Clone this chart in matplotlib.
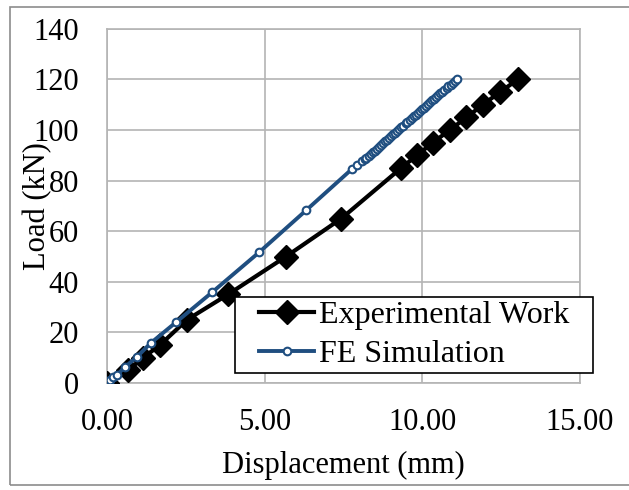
import matplotlib.pyplot as plt
from matplotlib.patches import Rectangle

# data
exp_disp = [0, 0.67, 1.15, 1.68, 2.54, 3.84, 5.68, 7.43, 9.33, 9.83, 10.33,
            10.87, 11.4, 11.92, 12.46, 13.03]
exp_load = [0, 5, 10, 15, 25, 35, 50, 65, 85, 90, 95, 100, 105, 110, 115, 120]

# FE points get very dense above ~85 kN
fe_disp = [0.0, 0.1, 0.2, 0.32, 0.57, 0.95, 1.39, 2.19, 3.33, 4.82, 6.31, 7.77,
           7.92, 8.10, 8.17, 8.23, 8.30, 8.36, 8.43, 8.49, 8.56, 8.62, 8.69,
           8.75, 8.82, 8.88, 8.95, 9.01, 9.08, 9.14, 9.21, 9.27, 9.34, 9.40,
           9.47, 9.53, 9.60, 9.66, 9.73, 9.79, 9.86, 9.92, 9.99, 10.05, 10.12,
           10.18, 10.25, 10.31, 10.38, 10.44, 10.51, 10.57, 10.64, 10.70,
           10.77, 10.83, 10.90, 10.96, 11.03, 11.09]
fe_load = [0.0, 1.1, 2.2, 3.2, 6.3, 10.3, 15.8, 24.0, 35.8, 51.6, 68.2, 84.6,
           86.2, 87.7, 88.5, 89.1, 89.9, 90.5, 91.3, 91.9, 92.7, 93.4, 94.1,
           94.8, 95.5, 96.2, 96.9, 97.6, 98.3, 99.0, 99.7, 100.4, 101.2, 101.8,
           102.6, 103.2, 104.0, 104.6, 105.4, 106.0, 106.8, 107.4, 108.2, 108.8,
           109.6, 110.2, 111.0, 111.7, 112.4, 113.1, 113.8, 114.5, 115.2, 115.9,
           116.6, 117.3, 118.0, 118.7, 119.5, 120.0]

x_ticks = [0, 5, 10, 15]
y_ticks = [0, 20, 40, 60, 80, 100, 120, 140]

plt.rcParams['font.family'] = ['Liberation Serif', 'DejaVu Serif']
fs = 22
grid_col = '#b4b4b4'
blue = '#1f4e80'

fig = plt.figure(figsize=(6.29, 4.90), dpi=100)
ax = fig.add_axes([0.170, 0.2184, 0.752, 0.7226])

ax.plot(exp_disp, exp_load, color='black', lw=3, marker='D', ms=12.5,
        label='Experimental Work', zorder=3)
ax.plot(fe_disp, fe_load, color=blue, lw=2.8, marker='o', ms=5.5,
        mfc='white', mec=blue, mew=1.5, label='FE Simulation', zorder=4)

ax.set_xlim(0, 15)
ax.set_ylim(0, 140)
ax.set_xticks(x_ticks)
ax.set_xticklabels([f'{v:.2f}' for v in x_ticks])
ax.set_yticks(y_ticks)
ax.tick_params(length=0, labelsize=fs)
ax.tick_params(axis='x', pad=18)
ax.tick_params(axis='y', pad=20)
ax.grid(True, color=grid_col, lw=1.2)
ax.set_axisbelow(True)
for s in ax.spines.values():
    s.set_color(grid_col)
    s.set_linewidth(1.2)

ax.set_xlabel('Displacement (mm)', fontsize=fs, labelpad=10)
ax.set_ylabel('Load (kN)', fontsize=fs)
ax.yaxis.set_label_coords(-0.115, 0.5)

# legend box (white, black edge) sticking out past the plot area
box = Rectangle((0.2706, 0.028), 0.757, 0.215, transform=ax.transAxes,
                facecolor='white', edgecolor='black', lw=1.2, zorder=5,
                clip_on=False)
ax.add_patch(box)

leg = ax.legend(loc='upper left', bbox_to_anchor=(0.319, 0.236),
                borderaxespad=0, fontsize=23, frameon=False, borderpad=0.05,
                handlelength=1.7, handletextpad=0.15, labelspacing=0.28)
leg.set_zorder(6)

# outer chart border
fig.patches.append(Rectangle((10 / 629, 5 / 490), 1.0, 478 / 490,
                             transform=fig.transFigure, fill=False,
                             edgecolor='#8c8c8c', lw=1.2))

plt.savefig('out.png', dpi=100)
